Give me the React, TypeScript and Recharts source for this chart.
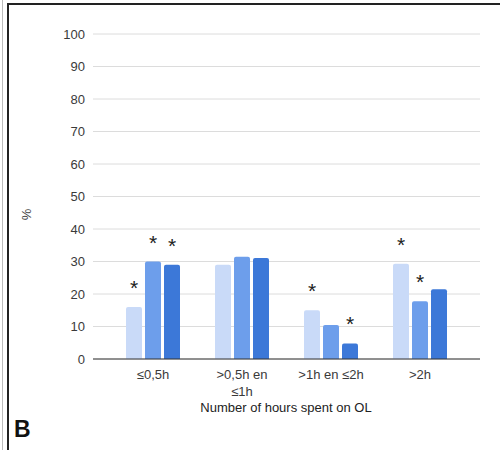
import React from 'react';
import { BarChart, Bar, XAxis, YAxis, CartesianGrid, LabelList } from 'recharts';

const categories = ['≤0,5h', '>0,5h en\n≤1h', '>1h en ≤2h', '>2h'];
const seriesA = [16, 29, 15, 29.3];
const seriesB = [30, 31.5, 10.5, 17.8];
const seriesC = [29, 31.1, 4.8, 21.5];
// significance markers (*) per series
const starsA = [true, false, true, true];
const starsB = [true, false, false, true];
const starsC = [true, false, true, false];
const yTicks = [0, 10, 20, 30, 40, 50, 60, 70, 80, 90, 100];

const FONT = "Arial, 'Liberation Sans', sans-serif";

const data = categories.map((cat, i) => ({
  cat,
  a: seriesA[i],
  b: seriesB[i],
  c: seriesC[i],
  sa: starsA[i] ? '*' : '',
  sb: starsB[i] ? '*' : '',
  sc: starsC[i] ? '*' : '',
}));

const CatTick = (props: any) => {
  const { x, y, payload } = props;
  const lines = String(payload.value).split('\n');
  return (
    <text x={x} y={y + 12} textAnchor="middle" fontSize={13} fill="#3a3a3a" fontFamily={FONT}>
      {lines.map((l, i) => (
        <tspan key={i} x={x} dy={i === 0 ? 0 : 17}>{l}</tspan>
      ))}
    </text>
  );
};

const Star = (props: any) => {
  const { x, y, width, value } = props;
  if (!value) return null;
  return (
    <text x={x + width / 2} y={y - 12} textAnchor="middle" fontSize={21} fill="#222" fontFamily={FONT}>
      {value}
    </text>
  );
};

const App: React.FC = () => {
  return (
    <div style={{ position: 'absolute', left: 0, top: 0, width: 500, height: 450, background: '#fff', fontFamily: FONT }}>
      {/* frame */}
      <div style={{ position: 'absolute', left: 2, top: 0, width: 1, height: 450, background: '#bbb' }} />
      <div style={{ position: 'absolute', left: 7, top: 3, width: 2, height: 447, background: '#222' }} />
      <div style={{ position: 'absolute', left: 7, top: 3, width: 493, height: 2, background: '#222' }} />

      <div style={{ position: 'absolute', left: 0, top: 0 }}>
        <BarChart
          width={500}
          height={450}
          data={data}
          margin={{ top: 34, right: 20, left: 0, bottom: 61 }}
          barCategoryGap={17.5}
          barGap={3}
        >
          <CartesianGrid vertical={false} stroke="#dcdcdc" />
          <XAxis
            dataKey="cat"
            height={30}
            axisLine={{ stroke: '#333' }}
            tickLine={false}
            padding={{ left: 15.5, right: 15.5 }}
            tick={<CatTick />}
            interval={0}
          />
          <YAxis
            width={93}
            domain={[0, 100]}
            ticks={yTicks}
            axisLine={false}
            tickLine={false}
            tick={{ fontSize: 13, fill: '#3a3a3a', fontFamily: FONT }}
          />
          <Bar dataKey="a" fill="#c9daf8" radius={[2, 2, 0, 0]} isAnimationActive={false}>
            <LabelList dataKey="sa" content={<Star />} />
          </Bar>
          <Bar dataKey="b" fill="#6d9eeb" radius={[2, 2, 0, 0]} isAnimationActive={false}>
            <LabelList dataKey="sb" content={<Star />} />
          </Bar>
          <Bar dataKey="c" fill="#3c78d8" radius={[2, 2, 0, 0]} isAnimationActive={false}>
            <LabelList dataKey="sc" content={<Star />} />
          </Bar>
        </BarChart>
      </div>

      <div style={{ position: 'absolute', left: 21, top: 207, transform: 'rotate(-90deg)', fontSize: 13, color: '#444' }}>%</div>
      <div style={{ position: 'absolute', left: 0, width: 572, top: 400, textAlign: 'center', fontSize: 13, color: '#222' }}>
        Number of hours spent on OL
      </div>
      <div style={{ position: 'absolute', left: 14, top: 416, fontSize: 23, fontWeight: 'bold', color: '#111' }}>B</div>
    </div>
  );
};

export default App;
